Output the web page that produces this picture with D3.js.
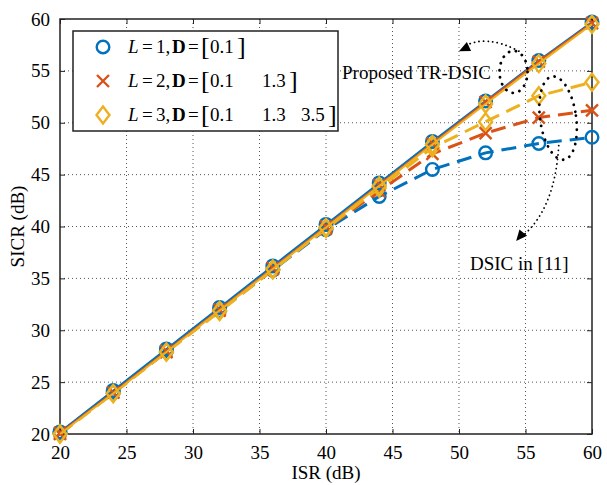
<!DOCTYPE html>
<html>
<head>
<meta charset="utf-8">
<script src="https://cdn.jsdelivr.net/npm/d3@7"></script>
<style>
  body { margin: 0; background: #fff; }
  text { font-family: "Liberation Serif", "Times New Roman", serif; fill: #000; }
</style>
</head>
<body>
<div id="chart"></div>
<script>
// ISR values (dB)
var isr = [20, 24, 28, 32, 36, 40, 44, 48, 52, 56, 60];

// proposed TR-DSIC (solid)
var trL1 = [20.2, 24.2, 28.2, 32.2, 36.2, 40.2, 44.2, 48.2, 52.1, 56.0, 59.7];
var trL2 = [20.1, 24.0, 28.0, 32.0, 36.0, 40.0, 44.0, 48.0, 52.0, 55.9, 59.6];
var trL3 = [20.0, 23.9, 27.9, 31.9, 35.9, 39.9, 43.9, 47.9, 51.8, 55.7, 59.5];

// DSIC in [11] (dashed)
var dsL1 = [20.1, 24.0, 28.0, 31.9, 35.8, 39.7, 42.9, 45.5, 47.1, 48.0, 48.6];
var dsL2 = [20.0, 24.0, 27.9, 31.9, 35.9, 39.8, 43.4, 47.0, 49.0, 50.5, 51.2];
var dsL3 = [20.0, 23.9, 27.9, 31.8, 35.8, 39.8, 43.7, 47.6, 50.1, 52.6, 53.9];

var xTicks = [20, 25, 30, 35, 40, 45, 50, 55, 60];
var yTicks = [20, 25, 30, 35, 40, 45, 50, 55, 60];

var legendRows = [
  { L: "1", D: ["0.1"] },
  { L: "2", D: ["0.1", "1.3"] },
  { L: "3", D: ["0.1", "1.3", "3.5"] }
];

(function() {

  var colors = ["#0072BD", "#D95319", "#EDB120"],
      markers = ["circle", "cross", "diamond"];

  var width = 607, height = 485,
      pL = 60, pR = 592, pT = 19, pB = 434;

  var svg = d3.select("#chart").append("svg")
      .attr("width", width)
      .attr("height", height);

  var x = d3.scaleLinear().domain([20, 60]).range([pL, pR]);
  var y = d3.scaleLinear().domain([20, 60]).range([pB, pT]);

  // grid (dotted)
  svg.append("g").selectAll("line").data(xTicks.slice(1, -1)).enter().append("line")
      .attr("x1", function(d) { return x(d); })
      .attr("x2", function(d) { return x(d); })
      .attr("y1", pT).attr("y2", pB)
      .style("stroke", "#555").style("stroke-width", 1)
      .style("stroke-dasharray", "1,3");
  svg.append("g").selectAll("line").data(yTicks.slice(1, -1)).enter().append("line")
      .attr("y1", function(d) { return y(d); })
      .attr("y2", function(d) { return y(d); })
      .attr("x1", pL).attr("x2", pR)
      .style("stroke", "#555").style("stroke-width", 1)
      .style("stroke-dasharray", "1,3");

  // axes, ticks inward on all sides
  function styleAxis(g) {
    g.select(".domain").remove();
    g.selectAll(".tick line").style("stroke", "#222").style("stroke-width", 1);
    g.selectAll(".tick text").style("font-family", "Liberation Serif").style("font-size", "19px");
  }
  svg.append("g").attr("transform", "translate(0," + pB + ")")
      .call(d3.axisBottom(x).tickValues(xTicks).tickSizeInner(-5).tickSizeOuter(0).tickPadding(12))
      .call(styleAxis);
  svg.append("g").attr("transform", "translate(0," + pT + ")")
      .call(d3.axisTop(x).tickValues(xTicks).tickSizeInner(-5).tickSizeOuter(0).tickFormat(""))
      .call(styleAxis);
  svg.append("g").attr("transform", "translate(" + pL + ",0)")
      .call(d3.axisLeft(y).tickValues(yTicks).tickSizeInner(-5).tickSizeOuter(0).tickPadding(10))
      .call(styleAxis);
  svg.append("g").attr("transform", "translate(" + pR + ",0)")
      .call(d3.axisRight(y).tickValues(yTicks).tickSizeInner(-5).tickSizeOuter(0).tickFormat(""))
      .call(styleAxis);

  svg.append("rect")
      .attr("x", pL).attr("y", pT)
      .attr("width", pR - pL).attr("height", pB - pT)
      .style("fill", "none").style("stroke", "#222").style("stroke-width", 1.5);

  // marker drawing
  function drawMarker(g, type, color) {
    if (type === "circle") {
      g.append("circle").attr("r", 6.3)
        .style("fill", "none").style("stroke", color).style("stroke-width", 2.4);
    } else if (type === "cross") {
      g.append("path").attr("d", "M-6,-6L6,6M-6,6L6,-6")
        .style("fill", "none").style("stroke", color).style("stroke-width", 2.4);
    } else {
      g.append("path").attr("d", "M0,-8.5L6.5,0L0,8.5L-6.5,0Z")
        .style("fill", "none").style("stroke", color).style("stroke-width", 2.4);
    }
  }

  var line = d3.line()
      .x(function(d, i) { return x(isr[i]); })
      .y(function(d) { return y(d); });

  function drawSeries(vals, k, dashed) {
    var g = svg.append("g");
    g.append("path").datum(vals)
      .attr("d", line)
      .style("fill", "none")
      .style("stroke", colors[k])
      .style("stroke-width", dashed ? 3 : 2)
      .style("stroke-dasharray", dashed ? "15,8" : null);
    g.selectAll("g.pt").data(vals).enter().append("g")
      .attr("class", "pt")
      .attr("transform", function(d, i) { return "translate(" + x(isr[i]) + "," + y(d) + ")"; })
      .each(function() { drawMarker(d3.select(this), markers[k], colors[k]); });
  }

  [dsL1, dsL2, dsL3].forEach(function(s, k) { drawSeries(s, k, true); });
  [trL1, trL2, trL3].forEach(function(s, k) { drawSeries(s, k, false); });

  // annotations
  function dotted(sel, w, gap) {
    sel.style("fill", "none").style("stroke", "#000")
      .style("stroke-width", w).style("stroke-linecap", "round")
      .style("stroke-dasharray", "0.1," + gap);
  }

  svg.append("ellipse")
      .attr("cx", x(54.1)).attr("cy", y(54.9)).attr("rx", 14).attr("ry", 21)
      .call(dotted, 2.8, 7);
  svg.append("ellipse")
      .attr("cx", x(57.45)).attr("cy", y(50.45)).attr("rx", 18).attr("ry", 42)
      .attr("transform", "rotate(-8," + x(57.45) + "," + y(50.45) + ")")
      .call(dotted, 2.8, 7);

  var a1 = [[x(54.5), y(56.9)], [x(52.0), y(58.6)], [x(50.3), y(57.3)]];
  var a2 = [[x(57.5), y(47.8)], [x(57.2), y(41.5)], [x(54.6), y(38.9)]];
  svg.append("path")
      .attr("d", "M" + a1[0] + "Q" + a1[1] + " " + a1[2])
      .call(dotted, 1.8, 4.5);
  svg.append("path")
      .attr("d", "M" + a2[0] + "Q" + a2[1] + " " + a2[2])
      .call(dotted, 1.8, 4.5);

  function arrowHead(px, py, ang) {
    svg.append("path")
      .attr("d", "M0,0L-11,-5L-11,5Z")
      .attr("transform", "translate(" + px + "," + py + ") rotate(" + ang + ")")
      .style("fill", "#000");
  }
  arrowHead(x(50.0), y(56.9), 155);
  arrowHead(x(54.3), y(38.6), 130);

  svg.append("text").attr("x", 342).attr("y", 79)
      .style("font-size", "19px").text("Proposed TR-DSIC");
  svg.append("text").attr("x", 470).attr("y", 270)
      .style("font-size", "19px").text("DSIC in [11]");

  // axis labels
  svg.append("text")
      .attr("x", (pL + pR) / 2).attr("y", 479)
      .attr("text-anchor", "middle")
      .style("font-size", "19px").text("ISR (dB)");
  svg.append("text")
      .attr("transform", "translate(24," + ((pT + pB) / 2) + ") rotate(-90)")
      .attr("text-anchor", "middle")
      .style("font-size", "19px").text("SICR (dB)");

  // legend
  var lg = svg.append("g");
  lg.append("rect")
      .attr("x", 73).attr("y", 31).attr("width", 265).attr("height", 100)
      .style("fill", "#fff").style("stroke", "#222").style("stroke-width", 1.5);

  var rowY = [47, 81, 115],
      dX = [210, 262, 301];

  legendRows.forEach(function(r, k) {
    var gy = rowY[k];
    var m = lg.append("g").attr("transform", "translate(103," + gy + ")");
    drawMarker(m, markers[k], colors[k]);

    var t = lg.append("text").attr("y", gy + 6).style("font-size", "19px");
    t.append("tspan").attr("x", 128).style("font-style", "italic").text("L");
    t.append("tspan").attr("x", 142).text("=");
    t.append("tspan").attr("x", 156).text(r.L + ",");
    t.append("tspan").attr("x", 172).style("font-weight", "bold").text("D");
    t.append("tspan").attr("x", 188).text("=");
    r.D.forEach(function(d, j) {
      t.append("tspan").attr("x", dX[j]).text(d);
    });

    var b = lg.append("text").attr("y", gy + 8).style("font-size", "26px");
    b.append("tspan").attr("x", 201).text("[");
    b.append("tspan").attr("x", dX[r.D.length - 1] + 27).text("]");
  });

})();
</script>
</body>
</html>
